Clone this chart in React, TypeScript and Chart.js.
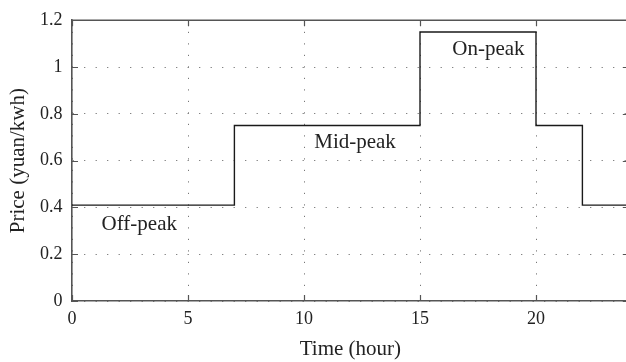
import React, { useEffect, useRef } from "react";
import { Chart, registerables } from "chart.js";

Chart.register(...registerables);

// Time-of-use price schedule (step changes at these hours)
const hours = [0, 7, 15, 20, 22, 24];
const prices = [0.41, 0.75, 1.15, 0.75, 0.41, 0.41];

const xTicks = [0, 5, 10, 15, 20];
const yTicks = [0, 0.2, 0.4, 0.6, 0.8, 1.0, 1.2];

const periodLabels = ["Off-peak", "Mid-peak", "On-peak"];
const labelHours = [2.9, 12.2, 17.95];
const labelPrices = [0.327, 0.676, 1.074];

const xTitle = "Time (hour)";
const yTitle = "Price (yuan/kwh)";

const FONT = "'Liberation Serif', 'DejaVu Serif', serif";
const TEXT = "#222222";
const AXIS = "#555555";

const framePlugin = {
  id: "frameAndLabels",
  afterDatasetsDraw(chart: any) {
    const { ctx, chartArea: a, scales } = chart;
    const x = scales.x;
    const y = scales.y;
    ctx.save();
    ctx.strokeStyle = AXIS;
    ctx.lineWidth = 1.6;
    ctx.beginPath();
    ctx.moveTo(a.left, a.top);
    ctx.lineTo(a.right, a.top);
    ctx.lineTo(a.right, a.bottom);
    ctx.stroke();
    ctx.lineWidth = 1.2;
    ctx.beginPath();
    x.ticks.forEach((t: any) => {
      const px = Math.round(x.getPixelForValue(t.value)) + 0.5;
      ctx.moveTo(px, a.bottom);
      ctx.lineTo(px, a.bottom - 6);
      ctx.moveTo(px, a.top);
      ctx.lineTo(px, a.top + 6);
    });
    y.ticks.forEach((t: any) => {
      const py = Math.round(y.getPixelForValue(t.value)) + 0.5;
      ctx.moveTo(a.left, py);
      ctx.lineTo(a.left + 6, py);
      ctx.moveTo(a.right, py);
      ctx.lineTo(a.right - 6, py);
    });
    ctx.stroke();

    ctx.fillStyle = TEXT;
    ctx.font = `21px ${FONT}`;
    ctx.textAlign = "center";
    ctx.textBaseline = "middle";
    periodLabels.forEach((lab, i) => {
      ctx.fillText(lab, x.getPixelForValue(labelHours[i]), y.getPixelForValue(labelPrices[i]));
    });
    ctx.restore();
  },
};

export default function App() {
  const ref = useRef<HTMLCanvasElement | null>(null);

  useEffect(() => {
    if (!ref.current) return;
    const chart = new Chart(ref.current, {
      type: "line",
      data: {
        datasets: [
          {
            data: hours.map((h, i) => ({ x: h, y: prices[i] })),
            stepped: "before",
            borderColor: "#1a1a1a",
            borderWidth: 1.4,
            pointRadius: 0,
            fill: false,
          },
        ],
      },
      options: {
        responsive: false,
        animation: false,
        devicePixelRatio: 1,
        layout: { padding: { left: 0, right: 3.2, top: 15, bottom: 0 } },
        plugins: {
          legend: { display: false },
          tooltip: { enabled: false },
        },
        scales: {
          x: {
            type: "linear",
            min: 0,
            max: 24,
            afterBuildTicks: (s: any) => {
              s.ticks = xTicks.map((v) => ({ value: v }));
            },
            afterFit: (s: any) => {
              s.height = 61;
            },
            grid: {
              color: "#777777",
              lineWidth: 1,
              drawTicks: false,
            },
            border: { display: true, color: AXIS, width: 1.6, dash: [1.2, 10.3] },
            ticks: {
              color: TEXT,
              font: { family: FONT, size: 18 },
              padding: 7,
              maxRotation: 0,
              callback: (v: any) => String(v),
            },
            title: {
              display: true,
              text: xTitle,
              color: TEXT,
              font: { family: FONT, size: 21 },
              padding: { top: 11.4, bottom: 0 },
            },
          },
          y: {
            type: "linear",
            min: 0,
            max: 1.2,
            afterBuildTicks: (s: any) => {
              s.ticks = yTicks.map((v) => ({ value: v }));
            },
            afterFit: (s: any) => {
              s.width = 72;
            },
            grid: {
              color: "#777777",
              lineWidth: 1,
              drawTicks: false,
            },
            border: { display: true, color: AXIS, width: 1.6, dash: [1.2, 10.3] },
            ticks: {
              color: TEXT,
              font: { family: FONT, size: 18 },
              padding: 9.5,
              callback: (v: any) => String(Number(Number(v).toFixed(1))),
            },
            title: {
              display: true,
              text: yTitle,
              color: TEXT,
              font: { family: FONT, size: 21 },
              padding: { top: 5.4, bottom: 0 },
            },
          },
        },
      },
      plugins: [framePlugin],
    } as any);
    return () => chart.destroy();
  }, []);

  return (
    <div
      style={{
        position: "fixed",
        left: 0,
        top: 0,
        width: 626,
        height: 362,
        overflow: "hidden",
        background: "#ffffff",
      }}
    >
      <canvas ref={ref} width={632} height={362} style={{ width: 632, height: 362, display: "block" }} />
    </div>
  );
}
